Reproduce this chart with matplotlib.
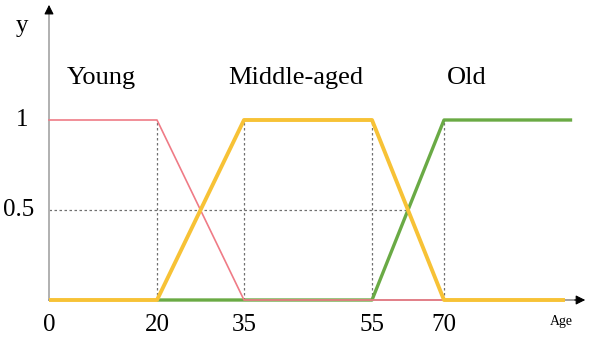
import numpy as np
import matplotlib.pyplot as plt
from matplotlib.scale import FuncScale

# membership functions (age -> degree)
young_age = [0, 20, 35, 70]
young_mu = [1, 1, 0, 0]
middle_age = [0, 20, 35, 55, 70, 95.2]
middle_mu = [0, 0, 1, 1, 0, 0]
old_age = [20, 55, 70, 96.7]
old_mu = [0, 0, 1, 1]

tick_ages = [0, 20, 35, 55, 70]
tick_labels = ['0', '20', '35', '55', '70']
guide_ages = [20, 35, 55, 70]
labels = ['Young', 'Middle-aged', 'Old']
label_ages = [3.3, 32.3, 70.5]

# the original axis is not evenly spaced: knots age -> pixel column
knot_age = [-10, 0, 20, 35, 55, 70, 120]
knot_px = [-5, 49, 157, 244, 372, 444, 684]


def fwd(a):
    return np.interp(a, knot_age, knot_px)


def inv(p):
    return np.interp(p, knot_px, knot_age)


plt.rcParams['font.family'] = ['Liberation Serif', 'DejaVu Serif']

fig = plt.figure(figsize=(5.9, 3.43), dpi=100)
ax = fig.add_axes([0, 0, 1, 1])
ax.set_xscale(FuncScale(ax.xaxis, (fwd, inv)))
ax.set_xlim(inv(0), inv(590))
# y: 0 at 43 px from bottom, 1 unit = 180 px
ax.set_ylim(-43 / 180, 300 / 180)
ax.axis('off')

# guides
for a in guide_ages:
    ax.plot([a, a], [0, 1], ls=(0, (2, 2)), color='#707070', lw=0.9)
ax.plot([0, 62.7], [0.5, 0.5], ls=(0, (2, 2)), color='#707070', lw=0.9)

# axes with arrows
ax.plot([0, 0], [0, 1.6], color='#b0b0b0', lw=1.4)
ax.plot([0, inv(575)], [0, 0], color='#a0a0a0', lw=1.4)
ax.annotate('', xy=(0, 1.655), xytext=(0, 1.58),
            arrowprops=dict(arrowstyle='-|>', color='black', lw=0.8,
                            mutation_scale=14))
ax.annotate('', xy=(inv(588), 0), xytext=(inv(572), 0),
            arrowprops=dict(arrowstyle='-|>', color='black', lw=0.8,
                            mutation_scale=14))

# curves
ax.plot(old_age, old_mu, color='#6aaa45', lw=2.4, solid_capstyle='butt')
ax.plot(young_age, young_mu, color='#ef7b86', lw=1.2)
ax.plot(middle_age, middle_mu, color='#f7c236', lw=2.8, solid_capstyle='butt')

# text
for t, a in zip(labels, label_ages):
    ax.text(a, 1.235, t, fontsize=19, ha='left', va='center')
for t, a in zip(tick_labels, tick_ages):
    ax.text(a, -0.14, t, fontsize=18, ha='center', va='center')
ax.text(inv(561), -0.12, 'Age', fontsize=10, ha='center', va='center')
ax.text(inv(22), 1.0, '1', fontsize=18, ha='center', va='center')
ax.text(inv(34), 0.5, '0.5', fontsize=18, ha='right', va='center')
ax.text(inv(22), 1.52, 'y', fontsize=18, ha='center', va='center')

fig.savefig('out.png', dpi=100)
